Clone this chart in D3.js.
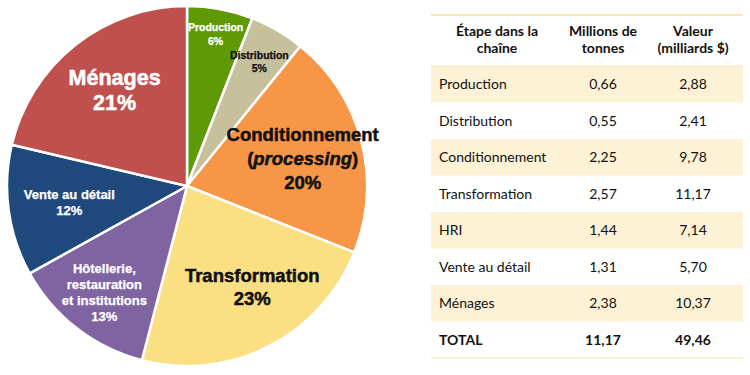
<!DOCTYPE html>
<html>
<head>
<meta charset="utf-8">
<script src="https://cdn.jsdelivr.net/npm/d3@7"></script>
<style>
  body { margin: 0; background: #fff; }
  svg { display: block; }
</style>
</head>
<body>
<svg id="chart" width="750" height="375"></svg>
<script>
// Stages of the chain (table order == pie order, clockwise from top)
const stages = ['Production', 'Distribution', 'Conditionnement', 'Transformation', 'HRI', 'Vente au détail', 'Ménages'];
const tonnes = [0.66, 0.55, 2.25, 2.57, 1.44, 1.31, 2.38];
const valeurs = [2.88, 2.41, 9.78, 11.17, 7.14, 5.70, 10.37];
const totalTonnes = 11.17;
const totalValeur = 49.46;

// Pie labels (multi-line), the percentage is appended
const pieLabels = [
    ['Production'],
    ['Distribution'],
    ['Conditionnement', '(processing)'],
    ['Transformation'],
    ['Hôtellerie,', 'restauration', 'et institutions'],
    ['Vente au détail'],
    ['Ménages']
];
const headers = [['Étape dans la', 'chaîne'], ['Millions de', 'tonnes'], ['Valeur', '(milliards $)']];

// Styling (r = label radius as fraction, da = angle nudge in degrees)
const colors = ['#5f9a06', '#c6c09c', '#f79646', '#fbe083', '#8064a2', '#1f497d', '#c0504d'];
const labelStyle = [
    {size: 10.5, lh: 14, fill: '#fff', r: 0.86, da: 0},
    {size: 10.5, lh: 13, fill: '#111', r: 0.80, da: 0},
    {size: 18.5, lh: 24, fill: '#111', r: 0.66, da: 1.5},
    {size: 18.5, lh: 23, fill: '#111', r: 0.67, da: -5.8},
    {size: 13, lh: 16, fill: '#fff', r: 0.75, da: 0},
    {size: 13, lh: 16, fill: '#fff', r: 0.66, da: 0},
    {size: 21.5, lh: 25, fill: '#fff', r: 0.67, da: 1.5}
];

const svg = d3.select('#chart');
const fmt = v => d3.format('.2f')(v).replace('.', ',');

// ---- Pie ----
const cx = 187, cy = 186, radius = 180;
const total = d3.sum(tonnes);
const pie = d3.pie().sort(null).value(d => d)(tonnes);
const arc = d3.arc().innerRadius(0).outerRadius(radius);

const g = svg.append('g').attr('transform', `translate(${cx},${cy})`);

g.selectAll('path')
    .data(pie)
    .join('path')
    .attr('d', arc)
    .attr('fill', (d, i) => colors[i])
    .attr('stroke', '#fff')
    .attr('stroke-width', 2.5)
    .attr('stroke-linejoin', 'round');

pie.forEach((d, i) => {
    const st = labelStyle[i];
    const a = (d.startAngle + d.endAngle) / 2 + st.da * Math.PI / 180;
    const pos = [Math.sin(a) * radius * st.r, -Math.cos(a) * radius * st.r];
    const lines = pieLabels[i].concat([Math.round(d.value / total * 100) + '%']);
    const n = lines.length;
    const t = g.append('text')
        .attr('text-anchor', 'middle')
        .attr('font-family', '"Liberation Sans", Arial, sans-serif')
        .attr('font-weight', 'bold')
        .attr('font-size', st.size)
        .attr('fill', st.fill)
        .attr('stroke', st.fill)
        .attr('stroke-width', st.size > 15 ? 0.5 : 0.25);
    lines.forEach((line, j) => {
        const y = pos[1] - (n - 1) * st.lh / 2 + j * st.lh + 0.35 * st.size;
        const ts = t.append('tspan').attr('x', pos[0]).attr('y', y);
        if (line === '(processing)') {
            ts.append('tspan').text('(');
            ts.append('tspan').attr('font-style', 'italic').text('processing');
            ts.append('tspan').text(')');
        } else {
            ts.text(line);
        }
    });
});

// ---- Table ----
const tLeft = 431, tRight = 743;
const colX = [439, 603, 693];
const rowKeys = stages.map((s, i) => i).concat(['total']);
const rows = d3.scaleBand().domain(rowKeys).range([66, 358]);
const tFont = 'Lato, "Open Sans", sans-serif';

const table = svg.append('g');

table.selectAll('rect.band')
    .data(rowKeys.filter(k => k !== 'total' && k % 2 === 0))
    .join('rect')
    .attr('class', 'band')
    .attr('x', tLeft)
    .attr('width', tRight - tLeft)
    .attr('y', d => rows(d))
    .attr('height', rows.bandwidth())
    .attr('fill', '#fdf1d6');

// rules
table.append('line').attr('x1', tLeft).attr('x2', tRight).attr('y1', 15).attr('y2', 15)
    .attr('stroke', '#fbe19c').attr('stroke-width', 1.5);
table.append('line').attr('x1', tLeft).attr('x2', tRight).attr('y1', 66).attr('y2', 66)
    .attr('stroke', '#fbe6ae').attr('stroke-width', 1);
table.append('line').attr('x1', tLeft).attr('x2', tRight).attr('y1', 358).attr('y2', 358)
    .attr('stroke', '#fdecc4').attr('stroke-width', 1.5);

// header
headers.forEach((h, c) => {
    h.forEach((line, j) => {
        table.append('text')
            .attr('x', c === 0 ? 497 : colX[c])
            .attr('y', 36 + j * 17)
            .attr('text-anchor', 'middle')
            .attr('font-family', tFont)
            .attr('font-weight', 'bold')
            .attr('font-size', 14)
            .attr('fill', '#111')
            .text(line);
    });
});

// body rows
rowKeys.forEach(k => {
    const isTotal = k === 'total';
    const cells = isTotal
        ? ['TOTAL', fmt(totalTonnes), fmt(totalValeur)]
        : [stages[k], fmt(tonnes[k]), fmt(valeurs[k])];
    const y = rows(k) + rows.bandwidth() / 2 + 5;
    cells.forEach((txt, c) => {
        table.append('text')
            .attr('x', colX[c])
            .attr('y', y)
            .attr('text-anchor', c === 0 ? 'start' : 'middle')
            .attr('font-family', tFont)
            .attr('font-weight', isTotal ? 'bold' : 'normal')
            .attr('font-size', 14)
            .attr('fill', '#111')
            .text(txt);
    });
});
</script>
</body>
</html>
